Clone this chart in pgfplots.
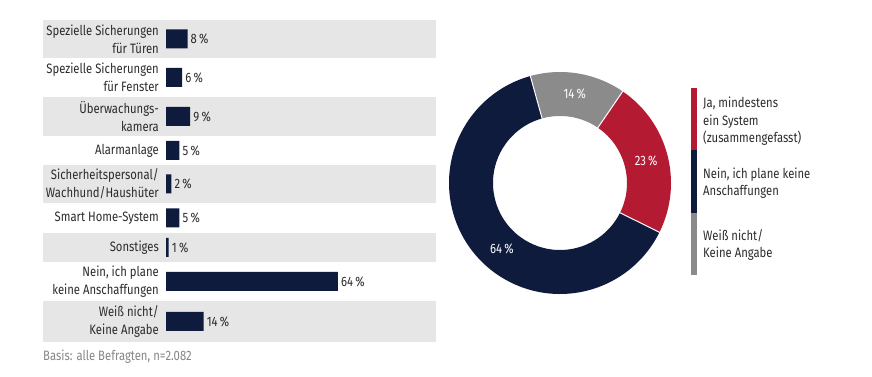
\documentclass[border=0pt]{standalone}
\usepackage{pgfplots}
\pgfplotsset{compat=1.18}
\usepackage{pgfplotstable}
\usepackage{fontspec}
\setmainfont{Fira Sans}[FakeStretch=0.83]
\definecolor{navy}{HTML}{0E1B3D}
\definecolor{cred}{HTML}{B51A33}
\definecolor{cgray}{HTML}{8B8B8B}
\definecolor{band}{HTML}{E6E6E6}
\definecolor{txt}{HTML}{2B2B2B}
\definecolor{basis}{HTML}{858585}
\newcommand{\lf}{\fontsize{13.6}{17.6}\selectfont}

\pgfplotstableread{
y val
338 8
299.5 6
260.5 9
226.5 5
193 2
159 5
129.5 1
95.5 64
55.5 14
}\bardata

% donut values (percent)
\def\vgray{14}
\def\vred{23}
\def\vnavy{64}

\begin{document}
\begin{tikzpicture}[x=1pt,y=1pt]
\path (0,0) rectangle (872,377);

% ---------- bar chart ----------
\begin{axis}[
  set layers,
  at={(166pt,35pt)}, anchor=south west,
  scale only axis, width=270pt, height=322pt,
  xmin=0, xmax=100.47, ymin=35, ymax=357,
  clip=false,
  axis line style={draw=none},
  xtick=\empty,
  ytick={338,299.5,260.5,226.5,193,159,129.5,95.5,55.5},
  yticklabels={{Spezielle Sicherungen\\für Türen},
               {Spezielle Sicherungen\\für Fenster},
               {Überwachungs-\\kamera},
               {Alarmanlage},
               {Sicherheitspersonal/\\Wachhund/Haushüter},
               {Smart Home-System},
               {Sonstiges},
               {Nein, ich plane\\keine Anschaffungen},
               {Weiß nicht/\\Keine Angabe}},
  major tick length=0pt,
  yticklabel style={align=right, font=\lf, text=txt, inner sep=0pt, xshift=-7pt},
  /pgf/number format/assume math mode=true,
]
\begin{pgfonlayer}{axis background}
\fill[band] (axis cs:-45.77,319) rectangle (axis cs:100.47,357);
\fill[band] (axis cs:-45.77,241) rectangle (axis cs:100.47,280);
\fill[band] (axis cs:-45.77,173.5) rectangle (axis cs:100.47,212);
\fill[band] (axis cs:-45.77,115) rectangle (axis cs:100.47,144);
\fill[band] (axis cs:-45.77,35) rectangle (axis cs:100.47,76);
\end{pgfonlayer}
\addplot[xbar, bar width=19pt, fill=navy, draw=none,
  point meta=x,
  nodes near coords={\pgfmathprintnumber{\pgfplotspointmeta}\,\%},
  nodes near coords style={font=\lf, text=txt, anchor=west, inner sep=3pt}]
  table[x=val, y=y] {\bardata};
\end{axis}

\node[anchor=west, text=basis, font=\lf, inner sep=0pt] at (43,20) {Basis: alle Befragten, n=2.082};

% ---------- donut ----------
\pgfmathsetmacro{\tot}{\vgray+\vred+\vnavy}
\pgfmathsetmacro{\aA}{105.5}
\pgfmathsetmacro{\aB}{\aA-\vgray/\tot*360}
\pgfmathsetmacro{\aC}{\aB-\vred/\tot*360}
\pgfmathsetmacro{\aD}{\aC-\vnavy/\tot*360}
\pgfmathsetmacro{\mA}{(\aA+\aB)/2}
\pgfmathsetmacro{\mB}{(\aB+\aC)/2}
\begin{axis}[
  at={(560pt,194pt)}, anchor=center,
  hide axis, scale only axis, width=240pt, height=240pt,
  xmin=-120, xmax=120, ymin=-120, ymax=120, clip=false]
\fill[cgray, shift={(axis cs:0,0)}] (\aA:111pt) arc[start angle=\aA, end angle=\aB, radius=111pt] -- (\aB:67pt) arc[start angle=\aB, end angle=\aA, radius=67pt] -- cycle;
\fill[cred, shift={(axis cs:0,0)}] (\aB:111pt) arc[start angle=\aB, end angle=\aC, radius=111pt] -- (\aC:67pt) arc[start angle=\aC, end angle=\aB, radius=67pt] -- cycle;
\fill[navy, shift={(axis cs:0,0)}] (\aC:111pt) arc[start angle=\aC, end angle=\aD, radius=111pt] -- (\aD:67pt) arc[start angle=\aD, end angle=\aC, radius=67pt] -- cycle;
\draw[white, line width=1pt, shift={(axis cs:0,0)}] (\aA:66pt) -- (\aA:112pt);
\draw[white, line width=1pt, shift={(axis cs:0,0)}] (\aB:66pt) -- (\aB:112pt);
\draw[white, line width=1pt, shift={(axis cs:0,0)}] (\aC:66pt) -- (\aC:112pt);
\node[white, font=\lf, shift={(axis cs:0,0)}] at (\mA:90pt) {\vgray\,\%};
\node[white, font=\lf, shift={(axis cs:0,0)}] at (\mB:89pt) {\vred\,\%};
\node[white, font=\lf] at (axis cs:-58,-66) {\vnavy\,\%};
\end{axis}

% ---------- legend ----------
\fill[cred] (691,227) rectangle (696.5,289);
\fill[navy] (691,164.3) rectangle (696.5,227);
\fill[cgray] (691,102) rectangle (696.5,164.3);
\node[anchor=west, align=left, text=txt, font=\lf, inner sep=0pt] at (703,255.5) {Ja, mindestens\\ein System\\(zusammengefasst)};
\node[anchor=west, align=left, text=txt, font=\lf, inner sep=0pt] at (703,194) {Nein, ich plane keine\\Anschaffungen};
\node[anchor=west, align=left, text=txt, font=\lf, inner sep=0pt] at (703,132) {Weiß nicht/\\Keine Angabe};
\end{tikzpicture}
\end{document}
